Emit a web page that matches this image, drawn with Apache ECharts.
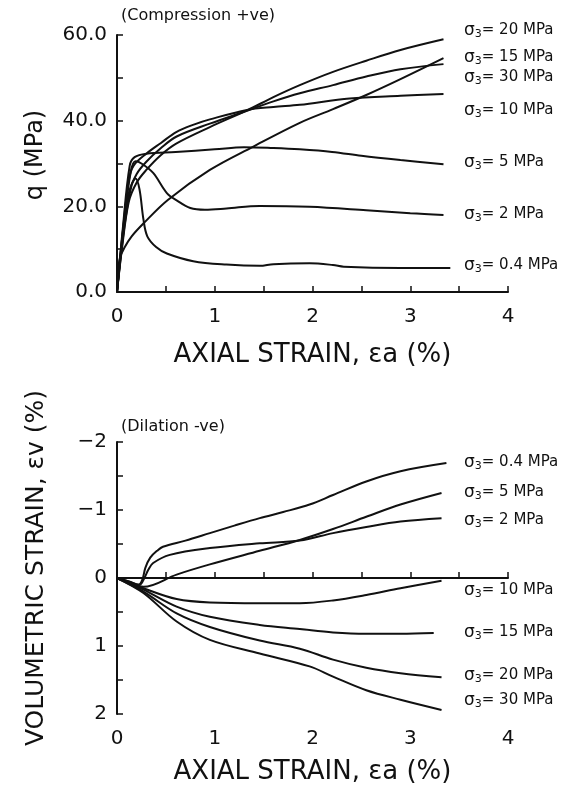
<!DOCTYPE html>
<html>
<head>
<meta charset="utf-8">
<script src="https://cdn.jsdelivr.net/npm/echarts@6/dist/echarts.min.js"></script>
<style>
html,body{margin:0;padding:0;background:#fff;}
#c{width:564px;height:786px;}
</style>
</head>
<body>
<div id="c"></div>
<script>
// ---- Deviator stress q (MPa) vs axial strain (%) ----
var q_04 = [[0,0],[0.08,16],[0.15,25],[0.19,26.5],[0.23,24],[0.27,17],[0.31,13],[0.4,10.5],[0.51,9.0],[0.78,7.2],[1.12,6.4],[1.46,6.1],[1.6,6.5],[1.97,6.7],[2.21,6.3],[2.32,5.9],[2.9,5.6],[3.41,5.6]];
var q_2 = [[0,0],[0.06,14],[0.14,28],[0.19,30.5],[0.25,30],[0.37,27.8],[0.51,23.1],[0.61,21.4],[0.75,19.6],[0.9,19.2],[1.12,19.5],[1.46,20.1],[1.97,19.9],[2.55,19.1],[3.0,18.4],[3.34,18.0]];
var q_5 = [[0,0],[0.06,15],[0.13,29.5],[0.18,31.5],[0.3,32.3],[0.6,32.7],[1.0,33.3],[1.3,33.8],[1.6,33.6],[1.87,33.3],[2.2,32.7],[2.5,31.8],[2.9,30.8],[3.34,29.8]];
var q_10 = [[0,0],[0.05,12],[0.12,26],[0.17,29.5],[0.3,32.3],[0.45,34.8],[0.61,37.4],[0.8,39.2],[0.95,40.3],[1.33,42.5],[1.6,43.2],[1.87,43.7],[2.38,45.2],[2.9,45.8],[3.34,46.2]];
var q_15 = [[0,0],[0.05,11],[0.12,23],[0.2,27.5],[0.3,30.4],[0.45,33.6],[0.61,36.3],[0.95,39.3],[1.33,42.3],[1.6,44.5],[1.87,46.4],[2.21,48.3],[2.55,50.3],[2.9,52.0],[3.34,53.2]];
var q_20 = [[0,0],[0.05,10],[0.12,21],[0.2,25.5],[0.3,28.5],[0.45,32],[0.61,34.7],[0.95,38.5],[1.33,42.4],[1.6,45.5],[1.87,48.3],[2.21,51.4],[2.55,54.0],[2.9,56.5],[3.34,59.0]];
var q_30 = [[0,0],[0.01,4],[0.03,8],[0.08,10.5],[0.15,13],[0.27,16],[0.52,21.5],[0.95,28.5],[1.39,33.9],[1.87,39.5],[2.21,42.7],[2.55,46.0],[2.9,49.7],[3.34,54.6]];

// ---- Volumetric strain (%) vs axial strain (%) (compression +ve) ----
var ev_04 = [[0,0],[0.12,0.05],[0.22,0.1],[0.26,0.02],[0.29,-0.15],[0.34,-0.3],[0.41,-0.4],[0.47,-0.46],[0.7,-0.55],[0.95,-0.66],[1.2,-0.77],[1.46,-0.88],[1.7,-0.97],[1.97,-1.08],[2.21,-1.22],[2.55,-1.42],[2.9,-1.57],[3.37,-1.69]];
var ev_2 = [[0,0],[0.12,0.05],[0.23,0.1],[0.28,0.0],[0.32,-0.12],[0.37,-0.22],[0.54,-0.34],[0.95,-0.44],[1.46,-0.51],[1.87,-0.55],[2.21,-0.66],[2.55,-0.75],[2.9,-0.83],[3.32,-0.88]];
var ev_5 = [[0,0],[0.15,0.08],[0.27,0.13],[0.61,-0.05],[0.95,-0.2],[1.46,-0.4],[1.87,-0.56],[2.21,-0.72],[2.55,-0.9],[2.9,-1.08],[3.32,-1.25]];
var ev_10 = [[0,0],[0.27,0.15],[0.61,0.31],[0.95,0.36],[1.46,0.37],[1.87,0.37],[2.21,0.33],[2.55,0.25],[2.9,0.15],[3.32,0.04]];
var ev_15 = [[0,0],[0.27,0.17],[0.61,0.42],[0.95,0.57],[1.46,0.69],[1.87,0.75],[2.21,0.8],[2.55,0.82],[2.9,0.82],[3.24,0.81]];
var ev_20 = [[0,0],[0.27,0.2],[0.61,0.52],[0.95,0.72],[1.46,0.92],[1.87,1.04],[2.21,1.2],[2.55,1.32],[2.9,1.40],[3.32,1.46]];
var ev_30 = [[0,0],[0.27,0.22],[0.61,0.64],[0.95,0.91],[1.46,1.11],[1.97,1.30],[2.21,1.45],[2.55,1.65],[2.9,1.79],[3.32,1.94]];
var ev_zero = 0;

// ---- labels ----
var qLabels = ['20','15','30','10','5','2','0.4'];
var evLabels = ['0.4','5','2','10','15','20','30'];
var topNote = '(Compression +ve)';
var botNote = '(Dilation -ve)';
var xName = 'AXIAL STRAIN, \u03B5a (%)';
var qName = 'q (MPa)';
var evName = 'VOLUMETRIC STRAIN, \u03B5v (%)';

var FONT = 'DejaVu Sans';
var INK = '#111';

function line(data, xi, yi){
  return {type:'line', data:data, xAxisIndex:xi, yAxisIndex:yi, showSymbol:false, symbol:'none',
    smooth:0.35, lineStyle:{color:INK, width:2}, silent:true, animation:false};
}
function xAx(gi){
  return {type:'value', gridIndex:gi, min:0, max:4, interval:1,
    name:xName, nameLocation:'middle', nameGap: gi===0 ? 50 : 45,
    nameTextStyle:{fontFamily:FONT, fontSize:26, color:INK},
    axisLine:{lineStyle:{color:INK, width:2}},
    axisTick:{inside:true, length:6, lineStyle:{color:INK, width:1.5}},
    minorTick:{show:true, splitNumber:2, length:6, lineStyle:{color:INK, width:1.5}},
    splitLine:{show:false},
    axisLabel:{fontFamily:FONT, fontSize:20, color:INK, margin:15}};
}

var series = [
  line(q_04,0,0), line(q_2,0,0), line(q_5,0,0), line(q_10,0,0), line(q_15,0,0), line(q_20,0,0), line(q_30,0,0),
  line(ev_04,1,1), line(ev_2,1,1), line(ev_5,1,1), line(ev_10,1,1), line(ev_15,1,1), line(ev_20,1,1), line(ev_30,1,1)
];
series[7].markLine = {silent:true, symbol:'none', label:{show:false}, lineStyle:{color:INK, width:1.5, type:'solid'}, data:[{yAxis:ev_zero}], animation:false};

function sigText(v){ return '{s|\u03C3}{b|3}{t|= ' + v + ' MPa}'; }
var rich = {
  s:{fontFamily:FONT, fontSize:17, fill:INK, color:INK},
  b:{fontFamily:FONT, fontSize:11, fill:INK, color:INK, verticalAlign:'bottom', padding:[8,0,0,0]},
  t:{fontFamily:FONT, fontSize:15, fill:INK, color:INK}
};
var qLabelY = [33,60,80,113,165,217,268];
var evLabelY = [465,495,523,593,635,678,703];
var graphics = [];
qLabels.forEach(function(v,i){
  graphics.push({type:'text', left:464, top:qLabelY[i]-11, silent:true,
    style:{text:sigText(v), rich:rich, fill:INK, font:'15px '+FONT}});
});
evLabels.forEach(function(v,i){
  graphics.push({type:'text', left:464, top:evLabelY[i]-11, silent:true,
    style:{text:sigText(v), rich:rich, fill:INK, font:'15px '+FONT}});
});
graphics.push({type:'text', left:121, top:8, silent:true, style:{text:topNote, fill:INK, font:'16px '+FONT}});
graphics.push({type:'text', left:121, top:419, silent:true, style:{text:botNote, fill:INK, font:'16px '+FONT}});
graphics.push({type:'text', x:36, y:155, rotation:Math.PI/2, silent:true,
  style:{text:qName, fill:INK, font:'24px '+FONT, textAlign:'center', textVerticalAlign:'middle', align:'center', verticalAlign:'middle'}});
graphics.push({type:'text', x:36, y:568, rotation:Math.PI/2, silent:true,
  style:{text:evName, fill:INK, font:'25px '+FONT, textAlign:'center', textVerticalAlign:'middle', align:'center', verticalAlign:'middle'}});

var chart = echarts.init(document.getElementById('c'), null, {renderer:'canvas'});
chart.setOption({
  backgroundColor:'#fff',
  animation:false,
  grid:[
    {left:117, right:56, top:35, bottom:494},
    {left:117, right:56, top:442, bottom:72}
  ],
  xAxis:[xAx(0), xAx(1)],
  yAxis:[
    {type:'value', gridIndex:0, min:0, max:60, interval:20,
      axisLine:{show:true, lineStyle:{color:INK, width:2}},
      axisTick:{show:true, inside:true, length:6, lineStyle:{color:INK, width:1.5}},
      minorTick:{show:true, splitNumber:2, length:6, lineStyle:{color:INK, width:1.5}},
      splitLine:{show:false},
      axisLabel:{fontFamily:FONT, fontSize:20, color:INK, margin:10, formatter:function(v){return v.toFixed(1);}}},
    {type:'value', gridIndex:1, min:-2, max:2, interval:1, inverse:true,
      axisLine:{show:true, lineStyle:{color:INK, width:2}},
      axisTick:{show:true, inside:true, length:6, lineStyle:{color:INK, width:1.5}},
      minorTick:{show:true, splitNumber:2, length:6, lineStyle:{color:INK, width:1.5}},
      splitLine:{show:false},
      axisLabel:{fontFamily:FONT, fontSize:20, color:INK, margin:10, formatter:function(v){return v<0 ? '\u2212'+Math.abs(v) : String(v);}}}
  ],
  series:series,
  graphic:graphics
});
</script>
</body>
</html>
